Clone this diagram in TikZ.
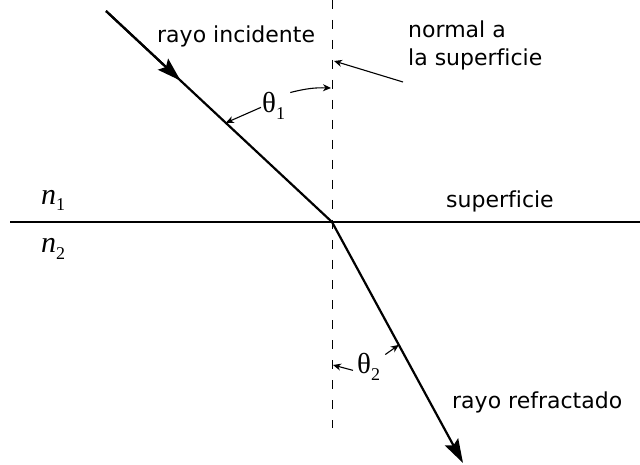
\documentclass[tikz,border=0pt]{standalone}
\usepackage{fontspec}
\setmainfont[Ligatures={NoCommon}]{DejaVu Sans}
\newfontfamily\grkfont{Liberation Serif}
\usetikzlibrary{arrows.meta,calc}
\newcommand{\thlab}[1]{{\grkfont\fontsize{29}{30}\selectfont θ\raisebox{-7pt}{\fontsize{18}{18}\selectfont #1}}}
\newcommand{\nlab}[1]{{\grkfont\fontsize{30}{32}\selectfont\itshape n\/\upshape\raisebox{-6pt}{\fontsize{18}{18}\selectfont #1}}}
\begin{document}
\begin{tikzpicture}[x=1pt,y=-1pt,
  lbl/.style={font=\fontsize{22}{24}\selectfont, inner sep=0pt, anchor=base west},
  mathlbl/.style={inner sep=0pt, anchor=base west},
  ray/.style={line width=2.2pt},
  bigtip/.style={-{Stealth[length=24pt,width=15pt,inset=4pt]}},
  pointer/.style={line width=1.1pt, -{Stealth[length=8pt,width=7pt,inset=2.5pt]}},
  surf/.style={line width=1.4pt},
  normalline/.style={line width=1pt, dash pattern=on 9pt off 11pt}]
\useasboundingbox (0,0) rectangle (640,465);

% key points
\coordinate (A) at (106,11);
\coordinate (O) at (332,222);
\coordinate (B) at (463,463);
\coordinate (S1) at (10,222);
\coordinate (S2) at (640,222);
\coordinate (N1) at (332,0);
\coordinate (N2) at (332,428);

% surface and normal
\draw[surf] (S1) -- (S2);
\draw[normalline] (N1) -- (N2);

% rays
\draw[ray] (A) -- (O);
\draw[ray, bigtip] (A) -- ($(A)!0.33!(O)$);
\draw[ray, bigtip] (O) -- (B);

% points on rays / normal for pointers
\coordinate (P1) at ($(A)!0.53!(O)$);
\coordinate (P2) at ($(O)!0.51!(B)$);
\coordinate (Q0) at (334,61);
\coordinate (Q1) at (331,88);
\coordinate (Q2) at (333,365);

% labels
\node[lbl] (inc) at (157,43) {rayo incidente};
\node[lbl] (nm1) at (408,38) {normal a};
\node[lbl] (nm2) at (408,66) {la superficie};
\node[lbl] (sup) at (446,208) {superficie};
\node[lbl] (ref) at (452,408) {rayo refractado};
\node[mathlbl] (n1) at (41,205) {\nlab{1}};
\node[mathlbl] (n2) at (41,253) {\nlab{2}};
\node[inner sep=0pt, anchor=base west] (t1) at (262,113) {\thlab{1}};
\node[inner sep=0pt, anchor=base west] (t2) at (357,373) {\thlab{2}};

% pointers
\draw[pointer] ([xshift=-5pt,yshift=-16pt]nm2.base west) -- (Q0);
\draw[pointer] ([xshift=-1pt,yshift=-1pt]t1.west) -- (P1);
\draw[pointer] ([xshift=5pt]t1.north east) to[bend left=8] (Q1);
\draw[pointer] ([xshift=-4pt,yshift=-4pt]t2.west) -- (Q2);
\draw[pointer] ([xshift=5pt,yshift=-2pt]t2.north east) -- (P2);
\end{tikzpicture}
\end{document}
